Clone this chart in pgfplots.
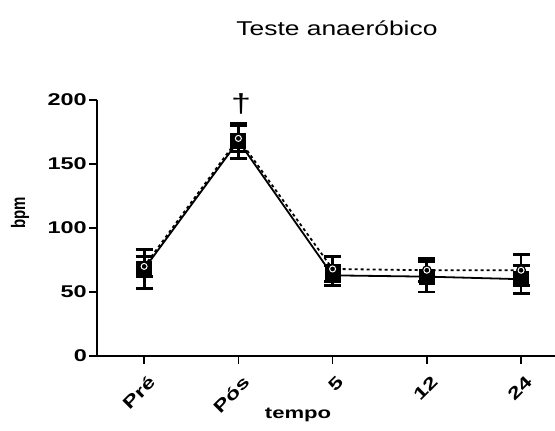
\documentclass[border=0pt]{standalone}
\usepackage{fontspec}
\setmainfont{Liberation Sans}
\newfontfamily\widesans{Liberation Sans}[FakeStretch=1.38]
\newfontfamily\titlesans{Liberation Sans}[FakeStretch=1.32]
\usepackage{pgfplots}
\pgfplotsset{compat=1.18}

\begin{document}
\begin{tikzpicture}
\begin{axis}[
  scale only axis,
  width=458pt, height=256pt,
  xmin=-0.5, xmax=4.36,
  ymin=0, ymax=200,
  axis x line=bottom, axis y line=left,
  axis line style={-, line width=1.6pt},
  xtick={0,1,2,3,4},
  xticklabels={Pré,Pós,5,12,24},
  ytick={0,50,100,150,200},
  tick align=outside,
  major tick length=8pt,
  tick style={black, line width=1.6pt},
  /pgf/number format/assume math mode=true,
  tick label style={font={\widesans\bfseries\fontsize{17}{19}\selectfont}},
  x tick label style={rotate=45, anchor=north east, inner sep=1pt, xshift=-4pt, yshift=-9pt},
  y tick label style={inner sep=2pt},
  clip=false,
]
% solid series (squares)
\addplot[black, line width=1.8pt, mark=square*, mark size=7pt,
  mark options={solid, fill=black},
  error bars/.cd, y dir=both, y explicit,
  error bar style={solid, line width=2.8pt},
  error mark options={rotate=90, mark size=8.5pt, line width=2.8pt}]
  coordinates {
  (0,68) +- (0,15)
  (1,168) +- (0,14)
  (2,63) +- (0,8)
  (3,62) +- (0,12)
  (4,60) +- (0,11)
};
% dashed series (circles)
\addplot[black, line width=1.8pt, dashed, mark=*, mark size=4pt,
  mark options={solid, fill=black},
  error bars/.cd, y dir=both, y explicit,
  error bar style={solid, line width=2.8pt},
  error mark options={rotate=90, mark size=8.5pt, line width=2.8pt}]
  coordinates {
  (0,70) +- (0,8)
  (1,170) +- (0,10)
  (2,68) +- (0,10)
  (3,67) +- (0,9)
  (4,67) +- (0,12)
};
\addplot[only marks, mark=o, mark size=3pt, white, line width=1pt]
  coordinates {(0,70) (1,170) (2,68) (3,67) (4,67)};
\node[font={\widesans\fontsize{26}{28}\selectfont}] at (axis cs:1.03,197) {†};
\node[font={\titlesans\fontsize{20}{23}\selectfont}] at ([yshift=72pt]rel axis cs:0.524,1) {Teste anaeróbico};
\node[font={\widesans\bfseries\fontsize{16}{18}\selectfont}] at ([yshift=-59pt]rel axis cs:0.439,0) {tempo};
\end{axis}
\node[inner sep=0pt] at ([xshift=-77pt,yshift=15pt]current axis.west)
  {\rotatebox{90}{\scalebox{1}[1.3]{\fontsize{15}{17}\selectfont\bfseries bpm}}};
\pgfresetboundingbox
\path[use as bounding box] ([xshift=-97pt,yshift=-74pt]current axis.south west) rectangle ([yshift=100pt]current axis.north east);
\end{tikzpicture}
\end{document}
